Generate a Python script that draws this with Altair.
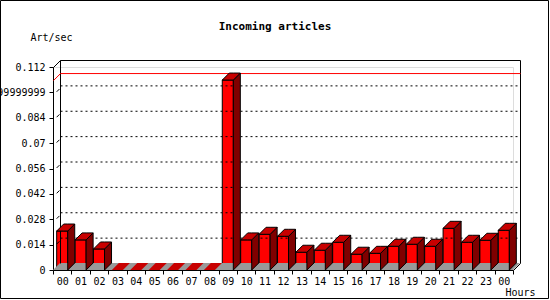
import altair as alt
import pandas as pd

# ---- data ----
hours = ["00", "01", "02", "03", "04", "05", "06", "07", "08", "09", "10", "11",
         "12", "13", "14", "15", "16", "17", "18", "19", "20", "21", "22", "23", "00"]
values = [0.0215, 0.0166, 0.0116, 0.0, 0.0, 0.0, 0.0, 0.0, 0.0, 0.1048, 0.0166, 0.0197,
          0.0186, 0.0098, 0.0109, 0.0153, 0.0087, 0.0092, 0.0131, 0.0142, 0.0131, 0.0230,
          0.0153, 0.0164, 0.0219]
y_ticks = [0, 0.014, 0.028, 0.042, 0.056, 0.07, 0.084, 0.098, 0.112]
y_tick_labels = ["0", "0.014", "0.028", "0.042", "0.056", "0.07", "0.084",
                 "0.09799999999999999", "0.112"]
title_text = "Incoming articles"
y_title = "Art/sec"
x_title = "Hours"

# ---- geometry / style ----
W, H = 460, 203
N = len(hours)
YMAX = y_ticks[-1]
DEPTH = 7  # px of 3D depth
DX = DEPTH * N / W
DY = DEPTH * YMAX / H
HX = 0.5 * N / W      # half a pixel, in x data units
HY = 0.5 * YMAX / H   # half a pixel, in y data units
BL, BR = 0.2, 0.8
FONT = "DejaVu Sans Mono"

xs = alt.Scale(domain=[0, N], nice=False, zero=False)
ys = alt.Scale(domain=[0, YMAX], nice=False, zero=False)

# bar tables
fronts = pd.DataFrame({
    "bar": list(range(N)),
    "x0": [i + BL for i in range(N)],
    "x1": [i + BR for i in range(N)],
    "y0": [0.0] * N,
    "v": values,
})
side_rows, top_rows = [], []
for i, v in enumerate(values):
    xl, xr = i + BL, i + BR
    side_rows += [dict(bar=i, v=v, x=xr, lo=0.0, hi=v),
                  dict(bar=i, v=v, x=xr + DX, lo=DY, hi=v + DY)]
    top_rows += [dict(bar=i, v=v, x=xl, lo=v, hi=v),
                 dict(bar=i, v=v, x=xl + DX, lo=v, hi=v + DY),
                 dict(bar=i, v=v, x=xr, lo=v, hi=v + DY),
                 dict(bar=i, v=v, x=xr + DX, lo=v + DY, hi=v + DY)]
sides = pd.DataFrame(side_rows)
tops = pd.DataFrame(top_rows)

floor = pd.DataFrame({"x": [0, DX, N, N + DX],
                      "lo": [0, 0, 0, DY],
                      "hi": [0, DY, DY, DY]})


def crisp(df):
    # shift line end points by half a pixel so 1px strokes are sharp
    df = df.copy()
    df["xa"] = df["xa"] + HX
    df["xb"] = df["xb"] + HX
    df["ya"] = df["ya"] - HY
    df["yb"] = df["yb"] - HY
    return df


levels = y_ticks[1:-1]
grid = crisp(pd.DataFrame({"xa": [DX] * len(levels), "xb": [N + DX] * len(levels),
                           "ya": [t + DY for t in levels], "yb": [t + DY for t in levels]}))
conn = crisp(pd.DataFrame({"xa": [DX * 0.45] * len(levels),
                           "xb": [DX * 0.85] * len(levels),
                           "ya": [t + DY * 0.15 for t in levels],
                           "yb": [t + DY * 0.55 for t in levels]}))

frame = crisp(pd.DataFrame({
    "xa": [DX, DX, 0, N + DX, N],
    "ya": [DY, YMAX + DY, YMAX, DY, 0],
    "xb": [DX, N + DX, DX, N + DX, N + DX],
    "yb": [YMAX + DY, YMAX + DY, YMAX + DY, YMAX + DY, DY],
}))

vmax = max(values)
maxline = crisp(pd.DataFrame({"xa": [0, DX], "ya": [vmax, vmax + DY],
                              "xb": [DX, N + DX], "yb": [vmax + DY, vmax + DY]}))

ylab_expr = "[" + ",".join("'%s'" % s for s in y_tick_labels) + "][indexof([" + \
    ",".join(repr(t) for t in y_ticks) + "], datum.value)]"
xlab_expr = "[" + ",".join("'%s'" % s for s in hours) + ",''][datum.value]"

x_axis = alt.Axis(values=list(range(N + 1)), labelExpr=xlab_expr, grid=False,
                  domainColor="black", tickColor="black", tickSize=4,
                  labelFont=FONT, labelFontSize=10, labelColor="black",
                  labelAlign="center", labelOffset=W / N / 2, labelBaseline="top",
                  labelPadding=2, labelOverlap=False, labelFlush=False,
                  title=x_title, titleFont=FONT, titleFontSize=10,
                  titleFontWeight="normal", titleColor="black",
                  titleX=452, titleY=22, titleAlign="left", titleBaseline="middle",
                  titleAngle=0)
y_axis = alt.Axis(values=y_ticks, labelExpr=ylab_expr, grid=False,
                  domainColor="black", tickColor="black", tickSize=4,
                  labelFont=FONT, labelFontSize=10, labelColor="black",
                  labelPadding=4, labelOverlap=False, labelFlush=False,
                  labelBaseline="middle", labelLimit=300,
                  title=y_title, titleFont=FONT, titleFontSize=10,
                  titleFontWeight="normal", titleColor="black", titleAngle=0,
                  titleX=-23, titleY=-30, titleAlign="left", titleBaseline="middle")


def X(f):
    return alt.X(f, scale=xs, axis=x_axis, title=x_title)


def Y(f):
    return alt.Y(f, scale=ys, axis=y_axis, title=y_title)


edge = alt.condition("datum.v > 0", alt.value(1), alt.value(0))

L_front = alt.Chart(fronts).mark_rect(color="#ff0000", stroke="black", strokeWidth=1).encode(
    x=X("x0:Q"), x2="x1:Q", y=Y("y0:Q"), y2="v:Q", strokeOpacity=edge)

L_floor = alt.Chart(floor).mark_area(color="#999999", opacity=1).encode(
    x=X("x:Q"), y=Y("lo:Q"), y2="hi:Q")

L_grid = alt.Chart(grid).mark_rule(color="black", strokeDash=[2, 3], strokeWidth=1).encode(
    x=X("xa:Q"), x2="xb:Q", y=Y("ya:Q"), y2="yb:Q")

L_conn = alt.Chart(conn).mark_rule(color="black", strokeWidth=1).encode(
    x=X("xa:Q"), x2="xb:Q", y=Y("ya:Q"), y2="yb:Q")

L_frame = alt.Chart(frame).mark_rule(color="black", strokeWidth=1).encode(
    x=X("xa:Q"), x2="xb:Q", y=Y("ya:Q"), y2="yb:Q")

L_max = alt.Chart(maxline).mark_rule(color="#ff0000", strokeWidth=1).encode(
    x=X("xa:Q"), x2="xb:Q", y=Y("ya:Q"), y2="yb:Q")

L_side = alt.Chart(sides).mark_area(color="#800000", stroke="black", strokeWidth=1,
                                    opacity=1, interpolate="linear").encode(
    x=X("x:Q"), y=Y("lo:Q"), y2="hi:Q", detail="bar:N", strokeOpacity=edge)

L_top = alt.Chart(tops).mark_area(color="#c80000", stroke="black", strokeWidth=1,
                                  opacity=1, interpolate="linear").encode(
    x=X("x:Q"), y=Y("lo:Q"), y2="hi:Q", detail="bar:N", strokeOpacity=edge)

L_title = alt.Chart(pd.DataFrame({"t": [title_text]})).mark_text(
    font=FONT, fontSize=11, fontWeight="bold", color="black",
    align="center", baseline="middle").encode(
    text="t:N", x=alt.value(275 - 53), y=alt.value(27 - 67))

L_border = alt.Chart(pd.DataFrame({"k": [0]})).mark_rect(
    fill=None, stroke="black", strokeWidth=1).encode(
    x=alt.value(-52.5), x2=alt.value(548.5 - 53),
    y=alt.value(-66.5), y2=alt.value(298.5 - 67))

chart = alt.layer(
    L_front, L_floor, L_grid, L_conn, L_frame, L_max, L_side, L_top, L_title, L_border
).properties(
    width=W, height=H,
    autosize=alt.AutoSizeParams(type="none"),
    padding={"left": 53, "top": 67, "right": 37, "bottom": 30},
).configure_view(stroke=None).configure(background="white")

chart.save("out.html", embed_options={"renderer": "svg", "actions": False})
